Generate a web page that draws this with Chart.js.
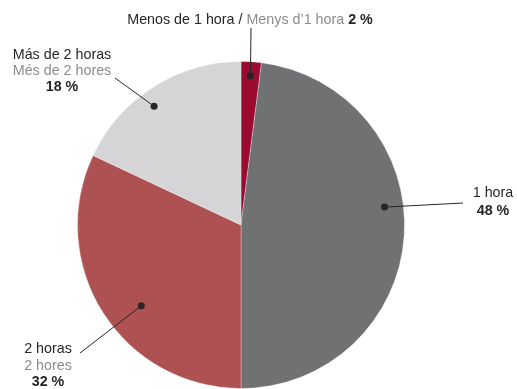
<!DOCTYPE html>
<html lang="es">
<head>
    <meta charset="UTF-8">
    <script src="https://cdn.jsdelivr.net/npm/chart.js@4/dist/chart.umd.min.js"></script>
    <style>
        html, body {
            margin: 0;
            padding: 0;
            background: #fff;
        }

        .chart-box {
            width: 517px;
            height: 389px;
        }
    </style>
    <title>Tiempo / Temps</title>
</head>
<body>
    <div class="chart-box">
        <canvas id="pieCanvas" width="517" height="389"></canvas>
    </div>

    <script>
        // categories (Spanish / Catalan) and shares in percent
        const labelsEs = ['Menos de 1 hora', '1 hora', '2 horas', 'Más de 2 horas'];
        const labelsCa = ['Menys d’1 hora', '1 hora', '2 hores', 'Més de 2 hores'];
        const shares = [2, 48, 32, 18];
        const sliceColors = ['#9b0a2f', '#707173', '#ad5153', '#d5d5d7'];

        // where each callout dot sits inside its slice (fraction of the radius)
        // and where the leader line ends next to the text
        const calloutDepth = [0.915, 0.885, 0.785, 0.9];
        const calloutAngleShift = [0, -10.7, -6.6, -3.8];
        const lineEnds = [[251, 28], [463, 203], [80, 353], [115, 78]];

        const FONT = '"Liberation Sans", Arial, sans-serif';
        const DARK = '#262626';
        const GREY = '#8c8c8c';

        function drawCentered(ctx, parts, cx, y) {
            let total = 0;
            parts.forEach(p => {
                ctx.font = p.font;
                total += ctx.measureText(p.text).width;
            });
            let x = cx - total / 2;
            parts.forEach(p => {
                ctx.font = p.font;
                ctx.fillStyle = p.color;
                ctx.fillText(p.text, x, y);
                x += ctx.measureText(p.text).width;
            });
        }

        const callouts = {
            id: 'callouts',
            afterDatasetsDraw(chart) {
                const ctx = chart.ctx;
                const arcs = chart.getDatasetMeta(0).data;
                const reg = '400 14.3px ' + FONT;
                const bold = '700 14.3px ' + FONT;

                ctx.save();
                ctx.textBaseline = 'alphabetic';
                ctx.textAlign = 'left';

                arcs.forEach((arc, i) => {
                    const mid = (arc.startAngle + arc.endAngle) / 2 + calloutAngleShift[i] * Math.PI / 180;
                    const r = arc.outerRadius * calloutDepth[i];
                    const dx = arc.x + Math.cos(mid) * r;
                    const dy = arc.y + Math.sin(mid) * r;

                    ctx.strokeStyle = DARK;
                    ctx.lineWidth = 1;
                    ctx.beginPath();
                    ctx.moveTo(dx, dy);
                    ctx.lineTo(lineEnds[i][0], lineEnds[i][1]);
                    ctx.stroke();

                    ctx.fillStyle = DARK;
                    ctx.beginPath();
                    ctx.arc(dx, dy, 3.5, 0, Math.PI * 2);
                    ctx.fill();
                });

                const pct = i => shares[i] + ' %';

                // top label on one line
                drawCentered(ctx, [
                    { text: labelsEs[0] + ' / ', font: reg, color: DARK },
                    { text: labelsCa[0] + ' ', font: reg, color: GREY },
                    { text: pct(0), font: bold, color: DARK }
                ], 250, 24);

                // 1 hora
                drawCentered(ctx, [{ text: labelsEs[1], font: reg, color: DARK }], 493, 197);
                drawCentered(ctx, [{ text: pct(1), font: bold, color: DARK }], 493, 215);

                // 2 horas
                drawCentered(ctx, [{ text: labelsEs[2], font: reg, color: DARK }], 48, 353);
                drawCentered(ctx, [{ text: labelsCa[2], font: reg, color: GREY }], 48, 370);
                drawCentered(ctx, [{ text: pct(2), font: bold, color: DARK }], 48, 386);

                // más de 2 horas
                drawCentered(ctx, [{ text: labelsEs[3], font: reg, color: DARK }], 62, 59);
                drawCentered(ctx, [{ text: labelsCa[3], font: reg, color: GREY }], 62, 75);
                drawCentered(ctx, [{ text: pct(3), font: bold, color: DARK }], 62, 91);

                ctx.restore();
            }
        };

        new Chart(document.getElementById('pieCanvas').getContext('2d'), {
            type: 'pie',
            data: {
                labels: labelsEs,
                datasets: [{
                    data: shares,
                    backgroundColor: sliceColors,
                    borderColor: 'rgba(255,255,255,0.3)',
                    borderWidth: 1
                }]
            },
            options: {
                responsive: false,
                animation: false,
                layout: {
                    padding: { top: 61, bottom: 0, left: 60, right: 95 }
                },
                plugins: {
                    legend: { display: false },
                    tooltip: { enabled: false }
                }
            },
            plugins: [callouts]
        });
    </script>
</body>
</html>
